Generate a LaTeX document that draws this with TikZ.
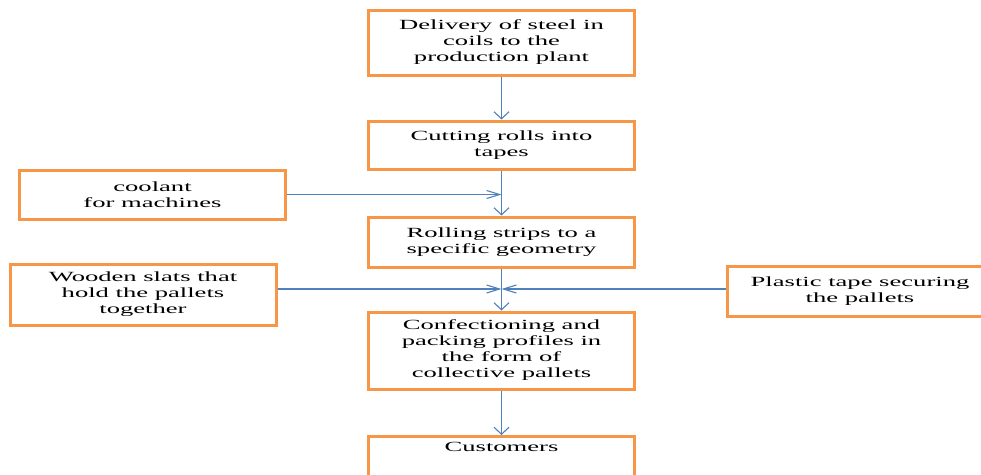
\documentclass[tikz,border=0pt]{standalone}
\usepackage{fontspec}
\setmainfont{Liberation Serif}[FakeStretch=1.9]
\usetikzlibrary{arrows.meta}
\definecolor{boxorange}{HTML}{F79646}
\definecolor{lineblue}{HTML}{4F81BD}
\begin{document}
\begin{tikzpicture}[x=1pt,y=-1pt,
  box/.style={draw=boxorange, line width=3pt, fill=white, minimum width=266pt, align=center,
    font=\fontsize{14}{16}\selectfont, inner sep=0pt},
  vflow/.style={draw=lineblue, line width=1.1pt, -{Straight Barb[length=7pt,width=15pt]}},
  hflow/.style={draw=lineblue, line width=1.1pt, -{Straight Barb[length=13pt,width=8pt]}}]
\clip (0,0) rectangle (981,474);
\fill[white] (0,0) rectangle (981,474);
\node[box, minimum height=65pt] (del) at (501.5,42.5) {Delivery of steel in\\coils to the\\production plant};
\node[box, minimum height=48pt] (cut) at (501.5,145) {Cutting rolls into\\tapes};
\node[box, minimum height=49pt] (cool) at (152.5,194.5) {coolant\\for machines};
\node[box, minimum height=50pt] (roll) at (501.5,242) {Rolling strips to a\\specific geometry};
\node[box, minimum height=61pt] (wood) at (143,294.5) {Wooden slats that\\hold the pallets\\together};
\node[box, minimum height=50pt] (plast) at (860,291) {Plastic tape securing\\the pallets};
\node[box, minimum height=77pt] (conf) at (501.5,350.5) {Confectioning and\\packing profiles in\\the form of\\collective pallets};
\node[box, minimum height=70pt, anchor=north, text depth=50pt] (cust) at (501.5,435) {Customers};
\coordinate (j) at (501.5,289);
\draw[vflow] (del) -- (cut);
\draw[vflow] (cut) -- (roll);
\draw[hflow] (cool.east) -- (cool.east -| cut.south);
\draw[vflow] (roll) -- (conf);
\draw[hflow] (wood.east |- j) -- (j);
\draw[hflow] (plast.west |- j) -- (j);
\draw[vflow] (conf) -- (cust);
\end{tikzpicture}
\end{document}
